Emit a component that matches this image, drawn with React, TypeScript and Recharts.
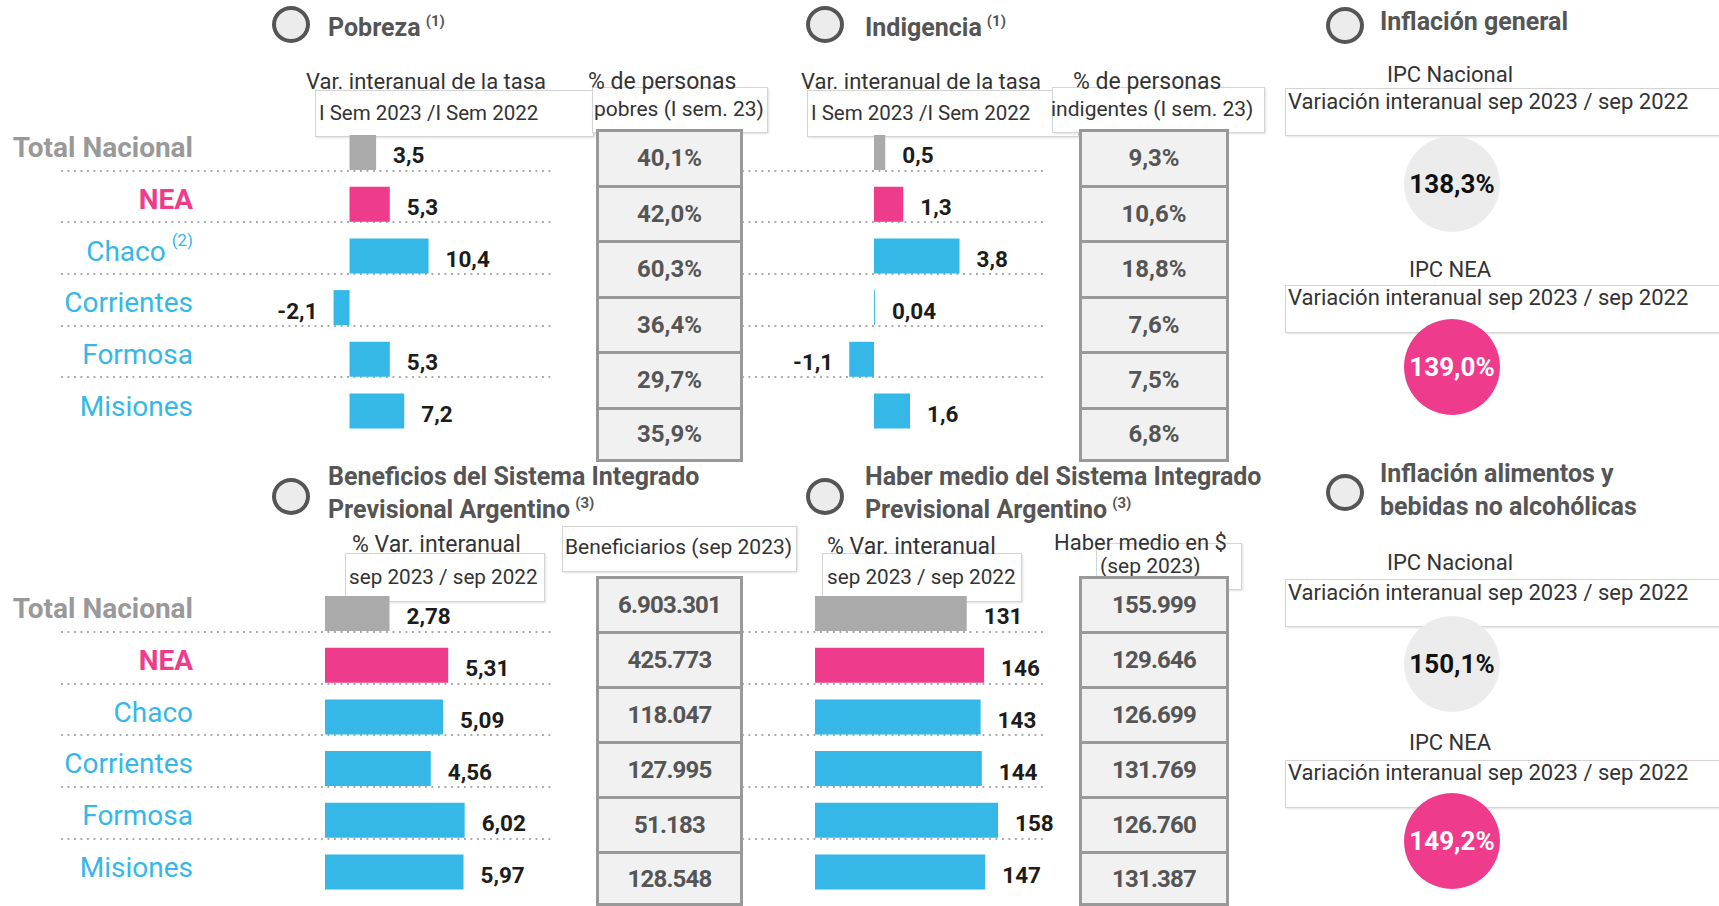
import React from 'react';
import { BarChart, Bar, XAxis, YAxis, Cell, LabelList, PieChart, Pie } from 'recharts';

const FONT = "Roboto, 'Open Sans', sans-serif";

// ---------- DATA ----------
const regions = ['Total Nacional', 'NEA', 'Chaco', 'Corrientes', 'Formosa', 'Misiones'];
const regionNotesTop = ['', '', '(2)', '', '', ''];
const regionNotesBottom = ['', '', '', '', '', ''];
const pobrezaVar = [3.5, 5.3, 10.4, -2.1, 5.3, 7.2];
const pobrezaPct = [40.1, 42.0, 60.3, 36.4, 29.7, 35.9];
const indigenciaVar = [0.5, 1.3, 3.8, 0.04, -1.1, 1.6];
const indigenciaPct = [9.3, 10.6, 18.8, 7.6, 7.5, 6.8];
const sipaBenefVar = [2.78, 5.31, 5.09, 4.56, 6.02, 5.97];
const sipaBeneficiarios = [6903301, 425773, 118047, 127995, 51183, 128548];
const haberVar = [131, 146, 143, 144, 158, 147];
const haberMedio = [155999, 129646, 126699, 131769, 126760, 131387];
const ipcLabels = ['IPC Nacional', 'IPC NEA'];
const ipcGeneral = [138.3, 139.0];
const ipcAlimentos = [150.1, 149.2];
const ipcSubtitle = 'Variación interanual sep 2023 / sep 2022';

// ---------- STYLE ----------
const PINK = '#ee3b8b';
const BLUE = '#35b8e8';
const GRAYBAR = '#aaaaaa';
const barColors = [GRAYBAR, PINK, BLUE, BLUE, BLUE, BLUE];
const nameColors = ['#999999', PINK, BLUE, BLUE, BLUE, BLUE];
const nameWeights = [700, 700, 400, 400, 400, 400];
const ipcColors = ['#ececec', PINK];
const ipcTextColors = ['#111111', '#ffffff'];

const BAND = 51.7;
const BAR = 35;
const TOP1 = 127.3;
const TOP2 = 587.7;

const fmtVar = (v: number) => String(v).replace('.', ',');
const fmtPct = (v: number) => v.toFixed(1).replace('.', ',') + '%';
const fmtThousands = (v: number) => String(v).replace(/\B(?=(\d{3})+(?!\d))/g, '.');

// ---------- HELPERS ----------
const T = ({ x, cy, size = 22, weight = 400, color = '#333', align = 'left', children }: any) => (
  <div
    style={{
      position: 'absolute',
      left: x,
      top: cy - size * 0.6,
      fontSize: size,
      lineHeight: `${size * 1.2}px`,
      fontWeight: weight,
      color,
      whiteSpace: 'nowrap',
      transform: align === 'center' ? 'translateX(-50%)' : undefined,
    }}
  >
    {children}
  </div>
);

const Sup = ({ children }: any) => (
  <span style={{ fontSize: 15, position: 'relative', top: -10, marginLeft: 5 }}>{children}</span>
);

const Box = ({ x, y, w, h }: any) => (
  <div
    style={{
      position: 'absolute',
      left: x,
      top: y,
      width: w,
      height: h,
      boxSizing: 'border-box',
      border: '1px solid #d4d4d4',
      background: '#fff',
      boxShadow: '1px 1px 2px rgba(0,0,0,0.12)',
    }}
  />
);

const Title = ({ cx, cy, left, lines, sup, textCy }: any) => (
  <>
    <div
      style={{
        position: 'absolute',
        left: cx - 19,
        top: cy - 18.5,
        width: 38,
        height: 37,
        borderRadius: '50%',
        border: '4px solid #555',
        background: '#ececec',
        boxSizing: 'border-box',
      }}
    />
    {lines.map((l: string, i: number) => (
      <T key={i} x={left} cy={textCy + i * 33} size={25} weight={700} color="#555">
        {l}
        {sup && i === lines.length - 1 ? <Sup>{sup}</Sup> : null}
      </T>
    ))}
  </>
);

const Sep = ({ x1, x2, y }: any) => (
  <div
    style={{
      position: 'absolute',
      left: x1,
      top: y - 1,
      width: x2 - x1,
      height: 2,
      backgroundImage: 'linear-gradient(to right, #a8a8a8 0 2px, transparent 2px)',
      backgroundSize: '6.5px 2px',
    }}
  />
);

const NameTick = (props: any) => {
  const { x, y, payload, notes } = props;
  const i = regions.indexOf(payload.value);
  return (
    <text
      x={x}
      y={y - 5}
      textAnchor="end"
      dominantBaseline="central"
      fontSize={28}
      fontWeight={nameWeights[i]}
      fill={nameColors[i]}
    >
      {payload.value}
      {notes[i] ? (
        <tspan fontSize={17} dy={-11} dx={6}>
          {notes[i]}
        </tspan>
      ) : null}
    </text>
  );
};

const ValueLabel = (props: any) => {
  const vb = props.viewBox || {};
  const x = props.x ?? vb.x;
  const y = props.y ?? vb.y;
  const w = props.width ?? vb.width;
  const h = props.height ?? vb.height;
  const v = Number(props.value);
  const left = Math.min(x, x + w);
  const right = Math.max(x, x + w);
  const neg = v < 0;
  return (
    <text
      x={neg ? left - 16 : right + 17}
      y={y + h / 2 + 3}
      textAnchor={neg ? 'end' : 'start'}
      dominantBaseline="central"
      fontSize={22.5}
      fontWeight={700}
      fill="#1c1c1c"
    >
      {fmtVar(v)}
    </text>
  );
};

const HBar = ({ values, domain, left, top, plotWidth, axisWidth = 0, notes }: any) => {
  const data = regions.map((name, i) => ({ name, v: values[i] }));
  const showNames = !!notes;
  const width = (showNames ? axisWidth : 0) + plotWidth;
  return (
    <div style={{ position: 'absolute', left, top }}>
      <BarChart
        width={width}
        height={BAND * regions.length}
        data={data}
        layout="vertical"
        margin={{ top: 0, right: 0, bottom: 0, left: 0 }}
      >
        <XAxis type="number" domain={domain} allowDataOverflow scale="linear" hide />
        <YAxis
          type="category"
          dataKey="name"
          width={showNames ? axisWidth : 0}
          hide={!showNames}
          axisLine={false}
          tickLine={false}
          tickSize={0}
          tickMargin={47}
          interval={0}
          tick={(p: any) => <NameTick {...p} notes={notes} />}
        />
        <Bar dataKey="v" barSize={BAR} isAnimationActive={false}>
          {data.map((d, i) => (
            <Cell key={i} fill={barColors[i]} />
          ))}
          <LabelList dataKey="v" content={(p: any) => <ValueLabel {...p} />} />
        </Bar>
      </BarChart>
    </div>
  );
};

const Table = ({ values, x, y, w, rowH, spacing = 0 }: any) => (
  <div style={{ position: 'absolute', left: x, top: y, width: w }}>
    {values.map((v: string, i: number) => (
      <div
        key={i}
        style={{
          height: rowH,
          boxSizing: 'border-box',
          borderTop: '3px solid #999',
          borderLeft: '3px solid #999',
          borderRight: '3px solid #999',
          borderBottom: i === values.length - 1 ? '3px solid #999' : 'none',
          background: '#f1f1f1',
          display: 'flex',
          alignItems: 'center',
          justifyContent: 'center',
          fontWeight: 700,
          fontSize: 24,
          letterSpacing: spacing,
          color: '#555',
        }}
      >
        {v}
      </div>
    ))}
  </div>
);

const IpcCircle = ({ cx, cy, value, idx }: any) => (
  <div style={{ position: 'absolute', left: cx - 50, top: cy - 50 }}>
    <PieChart width={100} height={100} margin={{ top: 0, right: 0, bottom: 0, left: 0 }}>
      <Pie
        data={[{ name: ipcLabels[idx], value }]}
        dataKey="value"
        cx={50}
        cy={50}
        innerRadius={0}
        outerRadius={48}
        startAngle={90}
        endAngle={-270}
        stroke="none"
        isAnimationActive={false}
        labelLine={false}
        label={(p: any) => (
          <text
            x={p.cx}
            y={p.cy}
            textAnchor="middle"
            dominantBaseline="central"
            fontSize={26}
            fontWeight={700}
            fill={ipcTextColors[idx]}
          >
            {fmtPct(value)}
          </text>
        )}
      >
        <Cell fill={ipcColors[idx]} />
      </Pie>
    </PieChart>
  </div>
);

// per-block layout: label y, box top, subtitle y, circle y
const IpcBlock = ({ values, labelY, boxY, subY, circY }: any) => (
  <>
    {values.map((v: number, i: number) => (
      <React.Fragment key={i}>
        <T x={1450} cy={labelY[i]} size={22} color="#333" align="center">
          {ipcLabels[i]}
        </T>
        <Box x={1285} y={boxY[i]} w={440} h={48} />
        <T x={1288} cy={subY[i]} size={22} color="#333">
          {ipcSubtitle}
        </T>
        <IpcCircle cx={1452} cy={circY[i]} value={v} idx={i} />
      </React.Fragment>
    ))}
  </>
);

export default function App() {
  const sepTop = [0, 1, 2, 3, 4].map((k) => TOP1 + (k + 1) * BAND - (BAND - BAR) / 2);
  const sepBot = [0, 1, 2, 3, 4].map((k) => TOP2 + (k + 1) * BAND - (BAND - BAR) / 2 + 1);
  return (
    <div
      style={{
        position: 'absolute',
        left: 0,
        top: 0,
        width: 1719,
        height: 906,
        overflow: 'hidden',
        background: '#fff',
        fontFamily: FONT,
      }}
    >
      {/* separators */}
      {sepTop.map((y, i) => (
        <React.Fragment key={'t' + i}>
          <Sep x1={61} x2={551} y={y} />
          <Sep x1={742} x2={1046} y={y} />
        </React.Fragment>
      ))}
      {sepBot.map((y, i) => (
        <React.Fragment key={'b' + i}>
          <Sep x1={61} x2={551} y={y} />
          <Sep x1={742} x2={1046} y={y} />
        </React.Fragment>
      ))}

      {/* titles */}
      <Title cx={291} cy={24.5} textCy={27.5} left={328} lines={['Pobreza']} sup="(1)" />
      <Title cx={825} cy={24.5} textCy={27.5} left={865} lines={['Indigencia']} sup="(1)" />
      <Title cx={1345} cy={25} textCy={22} left={1380} lines={['Inflación general']} />
      <Title cx={291} cy={496} textCy={477} left={328} lines={['Beneficios del Sistema Integrado', 'Previsional Argentino']} sup="(3)" />
      <Title cx={825} cy={496} textCy={477} left={865} lines={['Haber medio del Sistema Integrado', 'Previsional Argentino']} sup="(3)" />
      <Title cx={1345} cy={492} textCy={474} left={1380} lines={['Inflación alimentos y', 'bebidas no alcohólicas']} />

      {/* header boxes top */}
      <Box x={315} y={90} w={279} h={47} />
      <Box x={592} y={87} w={176} h={46} />
      <T x={306} cy={82}>Var. interanual de la tasa</T>
      <T x={319} cy={113} size={20.5}>I Sem 2023 /I Sem 2022</T>
      <T x={588} cy={82} size={23}>% de personas</T>
      <T x={594} cy={110} size={21}>pobres (I sem. 23)</T>

      <Box x={807} y={90} w={272} h={47} />
      <Box x={1052} y={87} w={213} h={46} />
      <T x={801} cy={82}>Var. interanual de la tasa</T>
      <T x={811} cy={113} size={20.5}>I Sem 2023 /I Sem 2022</T>
      <T x={1073} cy={82} size={23}>% de personas</T>
      <T x={1051} cy={110} size={21}>indigentes (I sem. 23)</T>

      {/* header boxes bottom */}
      <Box x={345} y={553} w={200} h={49} />
      <T x={352} cy={545} size={23}>% Var. interanual</T>
      <T x={349} cy={577} size={20.7}>sep 2023 / sep 2022</T>
      <Box x={562} y={526} w={235} h={46} />
      <T x={565} cy={548} size={21}>Beneficiarios (sep 2023)</T>

      <Box x={822} y={553} w={200} h={49} />
      <T x={827} cy={547} size={23}>% Var. interanual</T>
      <T x={827} cy={577} size={20.7}>sep 2023 / sep 2022</T>
      <Box x={1096} y={543} w={146} h={47} />
      <T x={1054} cy={543}>Haber medio en $</T>
      <T x={1100} cy={567} size={21}>(sep 2023)</T>

      {/* tables */}
      <Table values={pobrezaPct.map(fmtPct)} x={596} y={129} w={147} rowH={55.5} />
      <Table values={indigenciaPct.map(fmtPct)} x={1079} y={129} w={150} rowH={55.5} />
      <Table values={sipaBeneficiarios.map(fmtThousands)} x={596} y={576} w={147} rowH={55} spacing={-0.8} />
      <Table values={haberMedio.map(fmtThousands)} x={1079} y={576} w={150} rowH={55} spacing={-0.8} />

      {/* bar charts */}
      <HBar values={pobrezaVar} domain={[-14.41, 29.01]} left={0} top={TOP1} axisWidth={240} plotWidth={330} notes={regionNotesTop} />
      <HBar values={indigenciaVar} domain={[-5.067, 9.156]} left={760} top={TOP1} plotWidth={320} />
      <HBar values={sipaBenefVar} domain={[-3.664, 10.56]} left={0} top={TOP2} axisWidth={240} plotWidth={330} notes={regionNotesBottom} />
      <HBar values={haberVar} domain={[-47.5, 228.8]} left={760} top={TOP2} plotWidth={320} />

      {/* inflation */}
      <IpcBlock values={ipcGeneral} labelY={[75, 270]} boxY={[88, 285]} subY={[102, 298]} circY={[183.5, 367]} />
      <IpcBlock values={ipcAlimentos} labelY={[563, 743]} boxY={[579, 760]} subY={[593, 773]} circY={[664, 841]} />
    </div>
  );
}
